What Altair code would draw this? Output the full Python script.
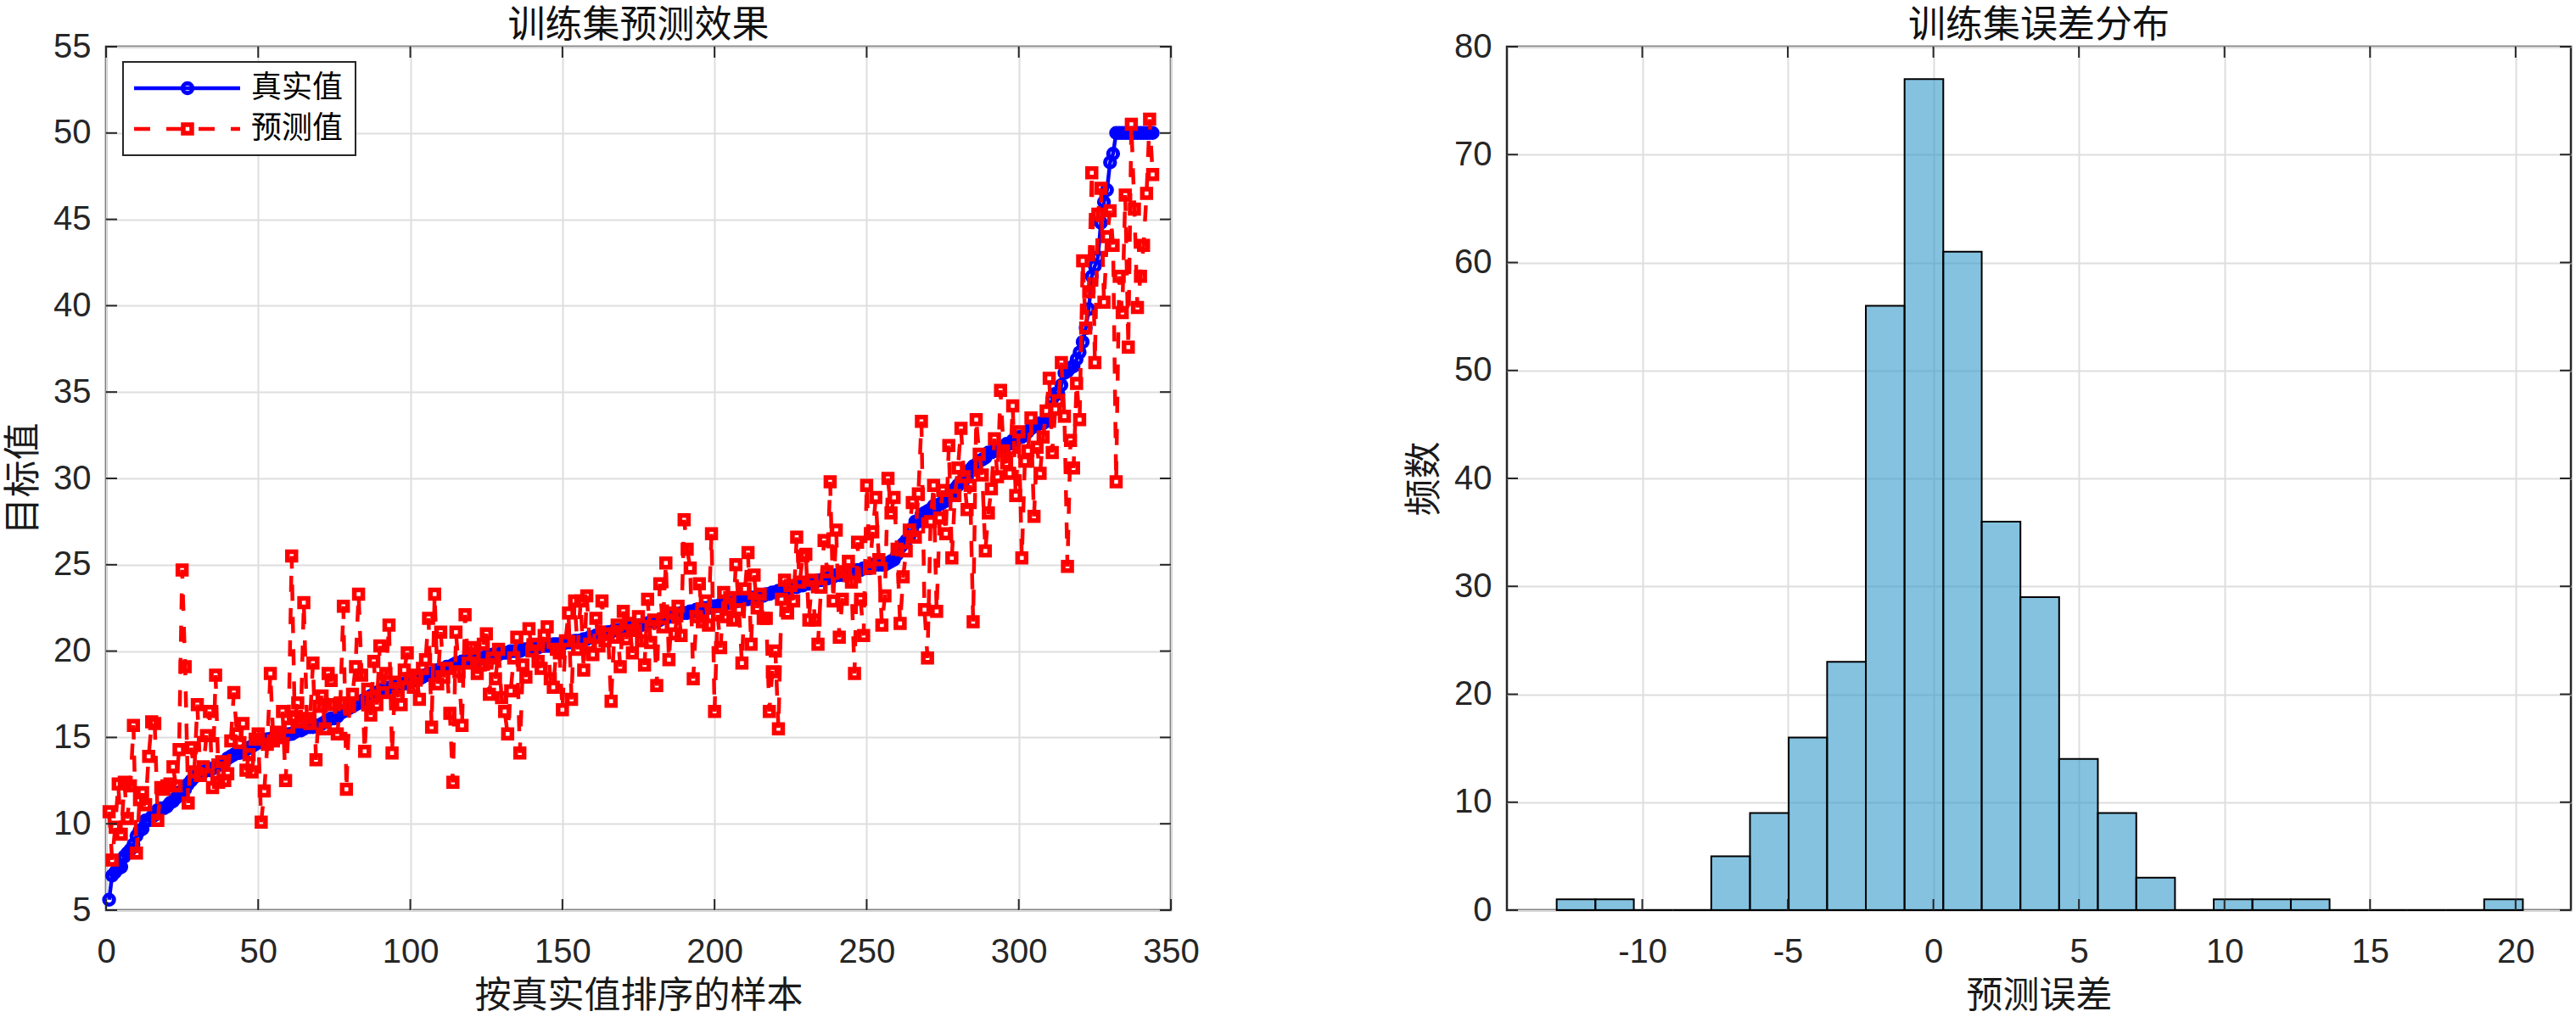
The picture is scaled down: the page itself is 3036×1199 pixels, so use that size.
import altair as alt
import pandas as pd

# ---------------- data ----------------
sample_idx = list(range(1, 345))

true_vals = [
    5.6, 7.0, 7.2, 7.4, 7.5, 8.1, 8.3, 8.5, 8.8, 9.3,
    9.6, 9.7, 10.2, 10.2, 10.4, 10.5, 10.8, 10.9, 10.9, 11.0,
    11.2, 11.3, 11.5, 11.8, 11.9, 12.0, 12.3, 12.5, 12.7, 12.8,
    12.9, 13.0, 13.1, 13.1, 13.2, 13.3, 13.4, 13.5, 13.6, 13.8,
    13.9, 14.0, 14.1, 14.1, 14.2, 14.3, 14.4, 14.5, 14.6, 14.7,
    14.8, 14.8, 14.9, 14.9, 15.0, 15.0, 15.0, 15.1, 15.1, 15.2,
    15.2, 15.3, 15.4, 15.4, 15.5, 15.6, 15.6, 15.6, 15.7, 15.7,
    15.8, 15.9, 16.0, 16.1, 16.1, 16.2, 16.4, 16.5, 16.6, 16.7,
    16.8, 16.9, 17.0, 17.1, 17.2, 17.3, 17.4, 17.5, 17.6, 17.7,
    17.8, 17.8, 17.9, 17.9, 18.0, 18.0, 18.1, 18.1, 18.2, 18.2,
    18.3, 18.4, 18.4, 18.5, 18.6, 18.7, 18.7, 18.8, 18.9, 18.9,
    19.0, 19.1, 19.1, 19.2, 19.3, 19.3, 19.4, 19.4, 19.4, 19.5,
    19.5, 19.5, 19.6, 19.6, 19.7, 19.7, 19.8, 19.8, 19.8, 19.9,
    19.9, 19.9, 20.0, 20.0, 20.0, 20.0, 20.1, 20.1, 20.1, 20.2,
    20.2, 20.2, 20.3, 20.3, 20.3, 20.3, 20.4, 20.4, 20.4, 20.4,
    20.5, 20.5, 20.5, 20.6, 20.6, 20.6, 20.7, 20.7, 20.8, 20.8,
    20.9, 20.9, 21.0, 21.0, 21.1, 21.1, 21.2, 21.2, 21.2, 21.3,
    21.3, 21.4, 21.4, 21.4, 21.5, 21.5, 21.6, 21.6, 21.7, 21.7,
    21.7, 21.8, 21.9, 21.9, 22.0, 22.0, 22.0, 22.1, 22.2, 22.2,
    22.2, 22.3, 22.3, 22.4, 22.4, 22.5, 22.5, 22.5, 22.6, 22.6,
    22.6, 22.7, 22.7, 22.8, 22.8, 22.8, 22.9, 22.9, 23.0, 23.0,
    23.0, 23.1, 23.1, 23.1, 23.2, 23.2, 23.3, 23.3, 23.4, 23.4,
    23.5, 23.5, 23.6, 23.6, 23.7, 23.7, 23.7, 23.8, 23.8, 23.9,
    23.9, 24.0, 24.0, 24.1, 24.1, 24.2, 24.2, 24.3, 24.3, 24.4,
    24.4, 24.4, 24.5, 24.5, 24.6, 24.6, 24.7, 24.7, 24.8, 24.8,
    24.8, 25.0, 25.0, 25.0, 25.0, 25.0, 25.1, 25.2, 25.3, 25.6,
    26.0, 26.2, 26.4, 26.6, 27.1, 27.5, 27.5, 27.9, 28.0, 28.1,
    28.2, 28.4, 28.4, 28.5, 28.6, 28.7, 29.0, 29.1, 29.4, 29.6,
    29.8, 29.9, 30.1, 30.5, 30.7, 30.8, 31.0, 31.1, 31.2, 31.5,
    31.5, 31.6, 31.6, 31.7, 31.7, 32.0, 32.0, 32.2, 32.2, 32.4,
    32.4, 32.5, 32.7, 32.9, 33.0, 33.1, 33.2, 33.2, 33.3, 33.4,
    34.6, 34.9, 34.9, 35.4, 36.1, 36.2, 36.4, 36.5, 36.9, 37.3,
    37.9, 38.7, 39.8, 41.7, 42.3, 42.8, 44.8, 46.0, 46.7, 48.3, 48.8, 50.0,
    50.0, 50.0, 50.0, 50.0, 50.0, 50.0, 50.0, 50.0, 50.0, 50.0, 50.0, 50.0,
]

pred_vals = [
    10.7, 7.9, 9.8, 12.3, 9.4, 12.4, 10.3, 12.2, 15.7, 8.3,
    11.4, 11.8, 11.1, 13.9, 15.9, 15.8, 10.2, 12.1, 12.0, 12.2,
    12.3, 13.3, 12.2, 14.3, 24.7, 19.1, 11.2, 14.4, 13.0, 16.9,
    12.8, 13.3, 15.1, 16.5, 12.1, 18.6, 12.4, 13.6, 12.5, 12.9,
    14.8, 17.6, 15.2, 14.7, 15.8, 13.1, 14.0, 13.0, 14.9, 15.2,
    10.1, 11.9, 14.6, 18.7, 14.8, 15.3, 15.0, 16.5, 12.5, 15.6,
    25.5, 16.2, 17.0, 15.9, 22.8, 16.1, 15.8, 19.3, 13.7, 16.8,
    17.4, 15.5, 18.7, 18.3, 16.9, 15.2, 17.0, 22.6, 12.0, 16.8,
    17.5, 19.1, 23.3, 18.6, 14.2, 17.8, 16.3, 19.4, 16.9, 20.3,
    17.6, 18.7, 21.5, 14.1, 18.2, 17.4, 16.9, 18.9, 19.9, 18.4,
    17.9, 18.6, 17.2, 19.0, 19.5, 21.9, 15.6, 23.3, 18.1, 21.1,
    18.5, 19.0, 16.4, 12.4, 21.1, 18.8, 15.7, 22.1, 19.3, 20.2,
    19.8, 18.7, 19.2, 20.4, 21.0, 17.5, 19.6, 18.4, 20.1, 17.3,
    16.5, 15.2, 17.7, 19.6, 20.8, 14.1, 19.2, 18.5, 21.3, 20.0,
    20.4, 19.4, 19.0, 20.9, 21.4, 18.4, 17.9, 20.1, 19.9, 16.6,
    20.6, 22.2, 17.2, 22.9, 20.1, 22.9, 18.9, 23.2, 20.4, 19.8,
    21.9, 20.3, 22.9, 20.6, 21.0, 17.1, 20.8, 21.5, 19.1, 22.3,
    20.7, 21.6, 19.9, 21.2, 22.0, 20.6, 19.2, 23.0, 20.5, 21.8,
    18.0, 23.9, 21.4, 25.1, 19.5, 22.2, 21.0, 22.6, 20.9, 27.6,
    25.9, 24.8, 18.4, 22.0, 23.9, 21.7, 22.9, 21.5, 26.8, 16.5,
    22.1, 20.2, 23.4, 22.0, 23.1, 21.8, 25.0, 22.4, 19.3, 23.6,
    25.7, 20.4, 24.4, 22.5, 23.3, 21.9, 21.9, 16.5, 18.8, 20.0,
    15.5, 23.0, 24.1, 22.2, 23.8, 22.9, 26.6, 24.0, 25.5, 25.6,
    21.8, 24.1, 21.8, 20.4, 23.7, 26.4, 24.6, 29.8, 22.9, 27.0,
    20.8, 23.0, 24.6, 25.2, 24.0, 18.7, 26.3, 23.0, 20.9, 29.6,
    24.8, 26.9, 28.9, 25.3, 21.5, 23.2, 30.0, 28.0, 28.9, 25.9,
    21.6, 24.3, 25.8, 27.0, 28.6, 26.6, 29.1, 33.3, 22.4, 19.6,
    27.5, 29.6, 22.3, 27.7, 29.3, 26.8, 31.9, 25.4, 29.0, 30.6,
    32.9, 30.1, 28.2, 29.6, 21.7, 33.4, 31.4, 30.2, 25.8, 28.0,
    29.4, 32.3, 30.1, 35.1, 31.6, 30.9, 30.3, 34.2, 29.0, 32.7,
    25.4, 31.0, 31.6, 33.5, 27.8, 31.8, 30.3, 32.4, 33.9, 35.8,
    31.5, 34.0, 34.5, 36.7, 33.6, 24.9, 32.2, 30.6, 35.5, 33.4,
    42.6, 38.7, 40.8, 47.7, 36.7, 45.3, 46.8, 40.2, 44.0, 45.5,
    43.5, 29.8, 41.7, 39.6, 46.4, 37.6, 50.5, 45.6, 39.9, 41.7, 43.5, 46.5, 50.8, 47.6,
]

assert len(true_vals) == len(sample_idx) == len(pred_vals)

series_names = ["真实值", "预测值"]
left_x_ticks = [0, 50, 100, 150, 200, 250, 300, 350]
left_y_ticks = [5, 10, 15, 20, 25, 30, 35, 40, 45, 50, 55]

bin_edges = [-12.94, -11.61, -10.29, -8.96, -7.63, -6.30, -4.97, -3.65, -2.32, -0.99,
             0.34, 1.66, 2.99, 4.32, 5.65, 6.97, 8.30, 9.63, 10.96, 12.28,
             13.61, 14.94, 16.27, 17.59, 18.92, 20.25]
bin_counts = [1, 1, 0, 0, 5, 9, 16, 23, 56, 77, 61, 36, 29, 14, 9, 3, 0, 1, 1, 1, 0, 0, 0, 0, 1]
hist_x_ticks = [-10, -5, 0, 5, 10, 15, 20]
hist_y_ticks = [0, 10, 20, 30, 40, 50, 60, 70, 80]

panel_titles = ["训练集预测效果", "训练集误差分布"]
x_titles = ["按真实值排序的样本", "预测误差"]
y_titles = ["目标值", "频数"]

# ---------------- style ----------------
W1, W2, H = 1255, 1254, 1018
CJK = "Noto Sans CJK SC"
NUM = "Liberation Sans"
AX = "#262626"
GRID = "#dedede"
TL = 13  # inward tick length

def x_axis(values, title):
    return alt.Axis(values=values, title=title, grid=True, gridColor=GRID, gridWidth=2,
                    ticks=False, tickSize=0, domain=False, labelPadding=29, titlePadding=11,
                    labelFont=NUM, labelFontSize=40, labelColor=AX, labelFlush=False,
                    labelOverlap=False, labelExpr="'' + datum.value",
                    titleFont=CJK, titleFontSize=43, titleFontWeight="normal", titleColor="#1a1a1a")

def y_axis(values, title):
    return alt.Axis(values=values, title=title, grid=True, gridColor=GRID, gridWidth=2,
                    ticks=False, tickSize=0, domain=False, labelPadding=18, titlePadding=12,
                    labelFont=NUM, labelFontSize=40, labelColor=AX, labelFlush=False,
                    labelOverlap=False, labelExpr="'' + datum.value",
                    titleFont=CJK, titleFontSize=44, titleFontWeight="normal", titleColor="#1a1a1a")

def ptitle(t):
    return alt.TitleParams(text=t, font=CJK, fontSize=44, fontWeight="normal", color="#111111",
                           offset=-18, anchor="middle")

def inward_ticks(xs, ys, xax, yax, xvals, yvals, width, height):
    xt = pd.DataFrame({"t": xvals})
    yt = pd.DataFrame({"t": yvals})
    base_x = alt.Chart(xt).mark_rule(color=AX, strokeWidth=2)
    base_y = alt.Chart(yt).mark_rule(color=AX, strokeWidth=2)
    xenc = alt.X("t:Q", scale=xs, axis=xax)
    yenc = alt.Y("t:Q", scale=ys, axis=yax)
    return [
        base_x.encode(x=xenc, y=alt.value(height), y2=alt.value(height - TL)),
        base_x.encode(x=xenc, y=alt.value(0), y2=alt.value(TL)),
        base_y.encode(y=yenc, x=alt.value(0), x2=alt.value(TL)),
        base_y.encode(y=yenc, x=alt.value(width - TL), x2=alt.value(width)),
    ]

# ---------------- left panel ----------------
df = pd.DataFrame({"idx": sample_idx, "true": true_vals, "pred": pred_vals})
xs1 = alt.Scale(domain=[0, 350], nice=False, zero=False)
ys1 = alt.Scale(domain=[5, 55], nice=False, zero=False)
xax1 = x_axis(left_x_ticks, x_titles[0])
yax1 = y_axis(left_y_ticks, y_titles[0])
X1 = alt.X("idx:Q", scale=xs1, axis=xax1)

CIRC = dict(shape="circle", filled=False, color="#0000ff", size=130, strokeWidth=5, opacity=1)
SQR = dict(shape="square", filled=False, color="#ff0000", size=100, strokeWidth=5.5, opacity=1)

base = alt.Chart(df)
blue_line = base.mark_line(color="#0000ff", strokeWidth=4.5).encode(
    x=X1, y=alt.Y("true:Q", scale=ys1, axis=yax1))
blue_pts = base.mark_point(**CIRC).encode(
    x=X1, y=alt.Y("true:Q", scale=ys1, axis=yax1))
red_line = base.mark_line(color="#ff0000", strokeWidth=4.5, strokeDash=[19, 19]).encode(
    x=X1, y=alt.Y("pred:Q", scale=ys1, axis=yax1))
red_pts = base.mark_point(**SQR).encode(
    x=X1, y=alt.Y("pred:Q", scale=ys1, axis=yax1))

one = pd.DataFrame({"k": [0]})
leg_box = alt.Chart(one).mark_rect(fill="white", stroke=AX, strokeWidth=2).encode(
    x=alt.value(20), x2=alt.value(294), y=alt.value(18), y2=alt.value(128))
leg_b_line = alt.Chart(one).mark_rule(color="#0000ff", strokeWidth=4.5).encode(
    x=alt.value(33), x2=alt.value(158), y=alt.value(49))
leg_b_pt = alt.Chart(one).mark_point(**CIRC).encode(x=alt.value(96), y=alt.value(49))
leg_r_line = alt.Chart(one).mark_rule(color="#ff0000", strokeWidth=4.5, strokeDash=[19, 19]).encode(
    x=alt.value(33), x2=alt.value(158), y=alt.value(97))
leg_r_pt = alt.Chart(one).mark_point(**SQR).encode(x=alt.value(96), y=alt.value(97))
leg_t1 = alt.Chart(one).mark_text(align="left", baseline="middle", font=CJK, fontSize=36, color="#000000").encode(
    x=alt.value(171), y=alt.value(49), text=alt.value(series_names[0]))
leg_t2 = alt.Chart(one).mark_text(align="left", baseline="middle", font=CJK, fontSize=36, color="#000000").encode(
    x=alt.value(171), y=alt.value(97), text=alt.value(series_names[1]))

left = alt.layer(
    blue_line, blue_pts, red_line, red_pts,
    *inward_ticks(xs1, ys1, xax1, yax1, left_x_ticks, left_y_ticks, W1, H),
    leg_box, leg_b_line, leg_b_pt, leg_r_line, leg_r_pt, leg_t1, leg_t2,
).properties(width=W1, height=H, title=ptitle(panel_titles[0]))

# ---------------- right panel ----------------
hdf = pd.DataFrame({"lo": bin_edges[:-1], "hi": bin_edges[1:], "n": bin_counts,
                    "base": [0] * len(bin_counts)})
xs2 = alt.Scale(domain=[-14.65, 21.9], nice=False, zero=False)
ys2 = alt.Scale(domain=[0, 80], nice=False)
xax2 = x_axis(hist_x_ticks, x_titles[1])
yax2 = y_axis(hist_y_ticks, y_titles[1])

bars = alt.Chart(hdf).mark_bar(fill="#3399cc", fillOpacity=0.6, stroke="#000000", strokeWidth=2).encode(
    x=alt.X("lo:Q", scale=xs2, axis=xax2),
    x2="hi:Q",
    y=alt.Y("n:Q", scale=ys2, axis=yax2),
    y2="base:Q",
)

right = alt.layer(
    bars, *inward_ticks(xs2, ys2, xax2, yax2, hist_x_ticks, hist_y_ticks, W2, H)
).properties(width=W2, height=H, title=ptitle(panel_titles[1]))

chart = alt.HConcatChart(hconcat=[left, right], spacing=396, bounds="flush").properties(
    padding={"left": 5, "top": 7, "right": 3, "bottom": 0},
    background="white",
).configure_view(stroke=AX, strokeWidth=2.5)

chart.save("out.html", embed_options={"renderer": "svg", "actions": False})
